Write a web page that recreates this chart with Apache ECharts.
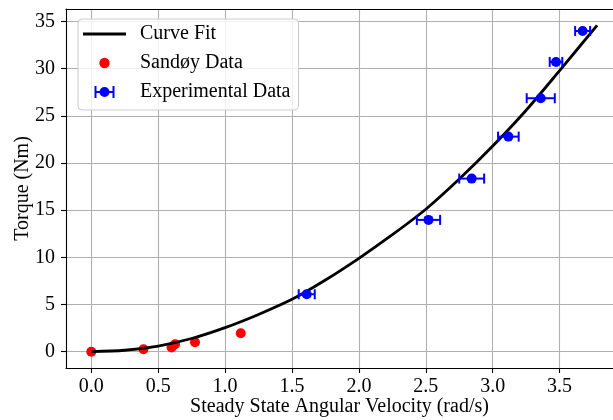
<!DOCTYPE html>
<html>
<head>
<meta charset="utf-8">
<script src="https://cdn.jsdelivr.net/npm/echarts@6/dist/echarts.min.js"></script>
<style>
  html, body { margin: 0; padding: 0; background: #ffffff; }
  #chart { width: 613px; height: 420px; }
</style>
</head>
<body>
<div id="chart"></div>
<script>
// Fitted torque curve, sampled along the angular velocity range
const fitX = [0, 0.25, 0.5, 0.75, 1.0, 1.25, 1.5, 1.75, 2.0, 2.25, 2.5, 2.75, 3.0, 3.25, 3.5, 3.78];
const fitY = [0, 0.15, 0.6, 1.4, 2.55, 3.95, 5.55, 7.6, 9.9, 12.4, 15.1, 18.3, 21.8, 25.6, 29.8, 34.6];

// Sandøy reference measurements
const sandoyX = [0.0, 0.39, 0.60, 0.626, 0.775, 1.117];
const sandoyY = [0.0, 0.25, 0.45, 0.78, 1.0, 1.95];

// Experimental measurements with horizontal (velocity) uncertainty
const expX = [1.61, 2.52, 2.843, 3.117, 3.359, 3.473, 3.672];
const expY = [6.09, 13.97, 18.35, 22.8, 26.87, 30.72, 34.0];
const expXErr = [0.06, 0.087, 0.093, 0.077, 0.105, 0.047, 0.056];

// Tick positions
const xTicks = [0.0, 0.5, 1.0, 1.5, 2.0, 2.5, 3.0, 3.5];
const yTicks = [0, 5, 10, 15, 20, 25, 30, 35];

const FONT = 'Liberation Serif';
const FS = 20;
const BLUE = '#0000ff';
const RED = '#ff0000';
const GRID = '#b0b0b0';

// Visible x range (plot continues past the right edge of the canvas)
const X_MIN = -0.189, X_MAX = 3.899;
const Y_MIN = -1.73, Y_MAX = 36.33;

const fitData = fitX.map((x, i) => [x, fitY[i]]);
const sandoyData = sandoyX.map((x, i) => [x, sandoyY[i]]);
const expData = expX.map((x, i) => [x, expY[i], expXErr[i]]);

function renderErrorBar(params, api) {
  const x = api.value(0), y = api.value(1), e = api.value(2);
  const c = api.coord([x, y]);
  const lo = api.coord([x - e, y]);
  const hi = api.coord([x + e, y]);
  const cap = 5;
  const lineStyle = { stroke: BLUE, lineWidth: 2 };
  return {
    type: 'group',
    children: [
      { type: 'line', shape: { x1: lo[0], y1: lo[1], x2: hi[0], y2: hi[1] }, style: lineStyle },
      { type: 'line', shape: { x1: lo[0], y1: lo[1] - cap, x2: lo[0], y2: lo[1] + cap }, style: lineStyle },
      { type: 'line', shape: { x1: hi[0], y1: hi[1] - cap, x2: hi[0], y2: hi[1] + cap }, style: lineStyle },
      { type: 'circle', shape: { cx: c[0], cy: c[1], r: 5 }, style: { fill: BLUE } }
    ]
  };
}

const chart = echarts.init(document.getElementById('chart'), null, { renderer: 'canvas' });

const axisText = { fontFamily: FONT, fontSize: FS, color: '#000' };
const spine = { show: true, onZero: false, lineStyle: { color: '#000', width: 1.1 } };

chart.setOption({
  animation: false,
  backgroundColor: '#ffffff',
  textStyle: { fontFamily: FONT },
  grid: { left: 66, top: 9, width: 547, height: 359, show: false, outerBoundsMode: 'none', containLabel: false },
  legend: {
    orient: 'vertical',
    left: 78, top: 19,
    padding: [5, 8, 8, 5],
    itemWidth: 43,
    itemHeight: 12,
    itemGap: 9,
    backgroundColor: 'rgba(255,255,255,0.8)',
    borderColor: '#cccccc',
    borderWidth: 1,
    borderRadius: 4,
    textStyle: { fontFamily: FONT, fontSize: FS, color: '#000', lineHeight: 20, padding: [0, 0, 0, 9] },
    data: [
      { name: 'Curve Fit', icon: 'path://M0,4.6 H43 V7.4 H0 Z' },
      { name: 'Sandøy Data', icon: 'path://M0,0 M12,12 M11.2,6 A5.2,5.2 0 1,1 0.8,6 A5.2,5.2 0 1,1 11.2,6 Z' },
      { name: 'Experimental Data', icon: 'path://M0,5 H20 V7 H0 Z M0,0 H2 V12 H0 Z M18,0 H20 V12 H18 Z M15,6 A5,5 0 1,1 5,6 A5,5 0 1,1 15,6 Z' }
    ]
  },
  xAxis: [
    {
      type: 'value',
      min: X_MIN, max: X_MAX,
      name: 'Steady State Angular Velocity (rad/s)',
      nameLocation: 'middle',
      nameGap: 29,
      nameMoveOverlap: false,
      nameTextStyle: axisText,
      axisLine: spine,
      axisTick: { show: true, customValues: xTicks, length: 5, lineStyle: { color: '#000', width: 1.1 } },
      axisLabel: { customValues: xTicks, margin: 9, formatter: v => v.toFixed(1), ...axisText },
      splitLine: { show: true, lineStyle: { color: GRID, width: 1.1 } }
    },
    {
      // top spine only
      type: 'value',
      position: 'top',
      min: X_MIN, max: X_MAX,
      axisLine: spine,
      axisTick: { show: false },
      axisLabel: { show: false },
      splitLine: { show: false }
    }
  ],
  yAxis: {
    type: 'value',
    min: Y_MIN, max: Y_MAX,
    name: 'Torque (Nm)',
    nameLocation: 'middle',
    nameGap: 33,
    nameMoveOverlap: false,
    nameTextStyle: axisText,
    axisLine: spine,
    axisTick: { show: true, customValues: yTicks, length: 5, lineStyle: { color: '#000', width: 1.1 } },
    axisLabel: { customValues: yTicks, margin: 11, formatter: v => String(v), ...axisText },
    splitLine: { show: true, lineStyle: { color: GRID, width: 1.1 } }
  },
  series: [
    {
      name: 'Curve Fit',
      type: 'line',
      data: fitData,
      smooth: 0.3,
      symbol: 'none',
      z: 3,
      itemStyle: { color: '#000' },
      lineStyle: { color: '#000', width: 2.8 }
    },
    {
      name: 'Sandøy Data',
      type: 'scatter',
      data: sandoyData,
      symbol: 'circle',
      symbolSize: 10,
      z: 2,
      itemStyle: { color: RED, opacity: 1 }
    },
    {
      name: 'Experimental Data',
      type: 'custom',
      data: expData,
      encode: { x: 0, y: 1 },
      renderItem: renderErrorBar,
      z: 4,
      itemStyle: { color: BLUE }
    }
  ]
});
</script>
</body>
</html>
